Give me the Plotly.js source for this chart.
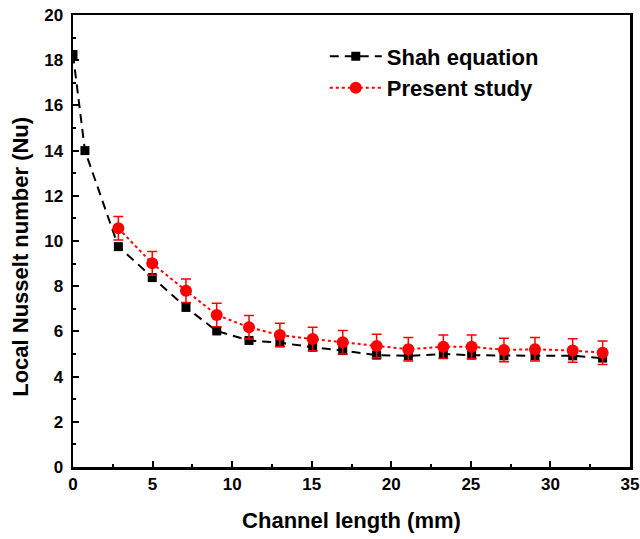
<!DOCTYPE html>
<html>
<head>
<meta charset="utf-8">
<script src="https://cdn.plot.ly/plotly-3.0.1.min.js"></script>
<style>html,body{margin:0;padding:0;background:#fff;}#chart{width:640px;height:539px;}</style>
</head>
<body>
<div id="chart"></div>
<script>
var shahX = [0, 0.75, 2.85, 4.98, 7.1, 9.03, 11.06, 13.0, 15.06, 16.95, 19.08, 21.07, 23.27, 25.05, 27.08, 29.03, 31.4, 33.28];
var shahY = [18.25, 14.0, 9.75, 8.38, 7.06, 6.02, 5.6, 5.5, 5.3, 5.15, 4.95, 4.92, 5.0, 4.95, 4.92, 4.92, 4.92, 4.82];
var studyX = [2.85, 4.98, 7.1, 9.03, 11.06, 13.0, 15.06, 16.95, 19.08, 21.07, 23.27, 25.05, 27.08, 29.03, 31.4, 33.28];
var studyY = [10.56, 9.01, 7.8, 6.73, 6.18, 5.84, 5.66, 5.52, 5.35, 5.21, 5.32, 5.32, 5.18, 5.21, 5.15, 5.06];
var studyErr = [0.52, 0.52, 0.52, 0.52, 0.52, 0.52, 0.52, 0.52, 0.52, 0.52, 0.52, 0.52, 0.52, 0.52, 0.52, 0.52];
var xTitle = 'Channel length (mm)';
var yTitle = 'Local Nusselt number (Nu)';

var font = {family: 'Liberation Sans, Arial, sans-serif', color: '#000', weight: 'bold'};

var traces = [
  {
    x: shahX, y: shahY, name: 'Shah equation', type: 'scatter', mode: 'lines+markers',
    line: {color: '#000', width: 2, dash: '9px,6px'},
    marker: {symbol: 'square', size: 9, color: '#000'}
  },
  {
    x: studyX, y: studyY, name: 'Present study', type: 'scatter', mode: 'lines+markers',
    line: {color: '#ff0000', width: 2, dash: 'dot'},
    marker: {symbol: 'circle', size: 12, color: '#ff0000'},
    error_y: {type: 'data', array: studyErr, visible: true, color: '#ff0000', thickness: 1.5, width: 5}
  }
];

var layout = {
  width: 640, height: 539,
  margin: {l: 73, r: 10, t: 15, b: 72},
  paper_bgcolor: '#fff', plot_bgcolor: '#fff',
  showlegend: true,
  legend: {
    x: 0.452, y: 0.955, xanchor: 'left', yanchor: 'top',
    font: Object.assign({}, font, {size: 22}),
    bgcolor: 'rgba(0,0,0,0)', tracegroupgap: 0, itemwidth: 52
  },
  xaxis: {
    range: [0, 35], dtick: 5, tick0: 0,
    showgrid: false, zeroline: false,
    showline: true, linecolor: '#000', linewidth: 2.5, mirror: true,
    ticks: 'inside', ticklen: 6, tickwidth: 2, tickcolor: '#000',
    minor: {ticks: 'inside', dtick: 2.5, ticklen: 3, tickwidth: 2, tickcolor: '#000'},
    tickfont: Object.assign({}, font, {size: 17}),
    title: {text: xTitle, font: Object.assign({}, font, {size: 22}), standoff: 20}
  },
  yaxis: {
    range: [0, 20], dtick: 2, tick0: 0,
    showgrid: false, zeroline: false,
    showline: true, linecolor: '#000', linewidth: 2.5, mirror: true,
    ticks: 'inside', ticklen: 6, tickwidth: 2, tickcolor: '#000',
    minor: {ticks: 'inside', dtick: 1, ticklen: 3, tickwidth: 2, tickcolor: '#000'},
    tickfont: Object.assign({}, font, {size: 17}),
    ticklabelstandoff: 4
  },
  annotations: [{
    text: yTitle, xref: 'paper', yref: 'paper', x: -0.0934, y: 0.465,
    xanchor: 'center', yanchor: 'middle', textangle: -90, showarrow: false,
    font: Object.assign({}, font, {size: 22})
  }]
};

Plotly.newPlot('chart', traces, layout, {displayModeBar: false, staticPlot: true});
</script>
</body>
</html>
